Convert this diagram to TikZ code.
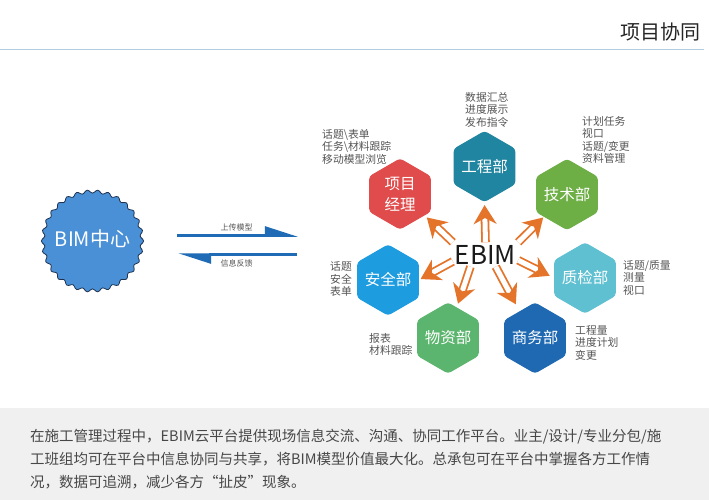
\documentclass[tikz,border=0pt]{standalone}
\usepackage{fontspec}
\setmainfont{Noto Sans CJK SC}
\usetikzlibrary{shapes.geometric,arrows.meta}
\definecolor{flowc}{HTML}{E5742B}
\definecolor{bluec}{HTML}{1F6BB5}
\definecolor{notec}{HTML}{555555}
\definecolor{rulec}{HTML}{B0CCDE}
\definecolor{gcc}{HTML}{2085A0}
\definecolor{xmc}{HTML}{E04B4B}
\definecolor{jsc}{HTML}{6DAE45}
\definecolor{aqc}{HTML}{1E9CE0}
\definecolor{wzc}{HTML}{5CB56E}
\definecolor{zjc}{HTML}{5FC0D2}
\definecolor{swc}{HTML}{1F69B3}
\definecolor{bimc}{HTML}{4A90D6}
\definecolor{bime}{HTML}{1E3250}
\newcommand{\hexlabel}[1]{\makebox[30pt][c]{#1}}
\tikzset{
  hexbox/.style={regular polygon,regular polygon sides=6,regular polygon rotate=30,minimum size=70pt,inner sep=0pt,fill=#1,draw=#1,line width=1pt,rounded corners=3pt,text=white,font=\fontsize{15.5}{21}\selectfont,align=center},
  notebox/.style={anchor=west,inner sep=0pt,align=left,text=notec,font=\fontsize{10.8}{12.5}\selectfont},
  flow/.style={draw=flowc,line width=1.8pt,double=white,double distance=5pt,-{Stealth[length=19pt,width=23pt,inset=6pt,flowc]}},
  syncarrow/.style={draw=bluec,line width=2.5pt,-{Triangle[harpoon,length=29pt,width=18pt,bluec]}},
  synclabel/.style={inner sep=0pt,text=notec,font=\fontsize{8}{9}\selectfont}
}
\begin{document}
\begin{tikzpicture}[x=1pt,y=-1pt]
\useasboundingbox (0,0) rectangle (709,500);
\fill[white] (0,0) rectangle (709,500);
% header
\node[anchor=east,inner sep=0pt,text=black!85,font=\fontsize{20}{24}\selectfont] (title) at (701,32) {项目协同};
\coordinate (ruleL) at (0,49.5);
\coordinate (ruleR) at (704,49.5);
\draw[rulec,line width=1pt] (ruleL) -- (ruleR);
% footer
\fill[black!6] (0,408) rectangle (709,500);
\node[anchor=west,inner sep=0pt,align=left,text=black!72,font=\fontsize{14.5}{22.7}\selectfont] (foot) at (30,459) {在施工管理过程中，EBIM云平台提供现场信息交流、沟通、协同工作平台。业主/设计/专业分包/施\\工班组均可在平台中信息协同与共享，将BIM模型价值最大化。总承包可在平台中掌握各方工作情\\况，数据可追溯，减少各方“扯皮”现象。};
% BIM centre
\draw[fill=bimc,draw=bime,line width=0.8pt]
  plot[smooth cycle,samples=180,domain=0:358] ({92.5+(49.5+1.6*cos(30*\x))*cos(\x)},{241+(49.5+1.6*cos(30*\x))*sin(\x)});
\node[circle,minimum size=98pt,inner sep=0pt,text=white,font=\fontsize{20}{24}\selectfont] (bim) at (92.5,238.5) {BIM中心};
% sync arrows
\coordinate (upA) at (177,235.5);
\coordinate (upB) at (298,235.5);
\coordinate (dnA) at (297,254.5);
\coordinate (dnB) at (178,254.5);
\draw[syncarrow] (upA) -- (upB);
\draw[syncarrow] (dnA) -- (dnB);
\node[synclabel] (upL) at (236.5,227) {上传模型};
\node[synclabel] (dnL) at (236.5,263) {信息反馈};
% hexagons
\node[hexbox=gcc] (gc) at (484.5,166.5) {\hexlabel{工程部}};
\node[hexbox=xmc] (xm) at (400,194) {项目\\经理};
\node[hexbox=jsc] (js) at (567,194.5) {\hexlabel{技术部}};
\node[hexbox=aqc] (aq) at (388,280) {\hexlabel{安全部}};
\node[hexbox=wzc] (wz) at (448,338) {\hexlabel{物资部}};
\node[hexbox=zjc] (zj) at (585,278) {\hexlabel{质检部}};
\node[hexbox=swc] (sw) at (535,338) {\hexlabel{商务部}};
% EBIM
\node[inner sep=0pt,minimum width=65pt,minimum height=24pt,text=black!90,font=\fontsize{26}{28}\selectfont] (ebim) at (485.5,254.5) {EBIM};
% flows
\draw[flow,shorten >=3pt] (ebim.north) -- (gc.south);
\draw[flow,shorten >=3pt] (ebim.north west) -- (xm.-41);
\draw[flow,shorten >=1pt] (ebim.north east) -- (js.224);
\draw[flow,shorten >=2pt] (ebim.192) -- (aq.0);
\draw[flow,shorten >=4pt] (ebim.219) -- (wz.74);
\draw[flow,shorten >=8pt] (ebim.-50) -- (sw.120);
\draw[flow,shorten >=5pt] (ebim.-10) -- (zj.180);
% notes
\node[notebox] (ngc) at (465,109.5) {数据汇总\\进度展示\\发布指令};
\node[notebox] (nxm) at (322,146.5) {话题\textbackslash 表单\\任务\textbackslash 材料跟踪\\移动模型浏览};
\node[notebox] (njs) at (582,140) {计划任务\\视口\\话题/变更\\资料管理};
\node[notebox] (nzj) at (623,277.5) {话题/质量\\测量\\视口};
\node[notebox] (nsw) at (575,342.5) {工程量\\进度计划\\变更};
\node[notebox] (naq) at (330,279) {话题\\安全\\表单};
\node[notebox] (nwz) at (369,344.5) {报表\\材料跟踪};
\end{tikzpicture}
\end{document}
